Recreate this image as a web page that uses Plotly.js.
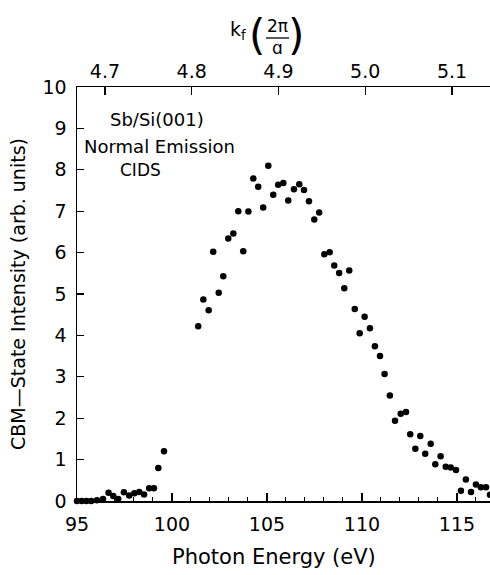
<!DOCTYPE html>
<html>
<head>
<meta charset="utf-8">
<script src="https://cdn.plot.ly/plotly-3.0.1.min.js"></script>
<style>html,body{margin:0;padding:0;background:#fff;}#chart{width:490px;height:575px;}</style>
</head>
<body>
<div id="chart"></div>
<script>
// Photon energy (eV)
const energy = [95.0, 95.25, 95.5, 95.75, 96.05, 96.37, 96.66, 96.91, 97.17, 97.47,
  97.75, 98.02, 98.28, 98.53, 98.8, 99.05, 99.28, 99.58,
  101.38, 101.65, 101.93, 102.17, 102.46, 102.7, 102.96, 103.23, 103.49, 103.75,
  104.02, 104.28, 104.54, 104.8, 105.07, 105.33, 105.59, 105.86, 106.12,
  106.42, 106.7, 106.95, 107.21, 107.49, 107.75, 108.02, 108.3, 108.54, 108.8,
  109.07, 109.33, 109.62, 109.88, 110.14, 110.42, 110.68, 110.95, 111.19, 111.47,
  111.74, 112.04, 112.32, 112.54, 112.81, 113.07, 113.33, 113.62, 113.86, 114.14,
  114.41, 114.67, 114.95, 115.21, 115.47, 115.74, 116.0, 116.26, 116.53, 116.74];
// CBM-state intensity (arb. units)
const intensity = [0, 0, 0, 0, 0.02, 0.05, 0.2, 0.12, 0.05, 0.21,
  0.13, 0.19, 0.22, 0.16, 0.31, 0.31, 0.8, 1.2,
  4.22, 4.87, 4.61, 6.02, 5.03, 5.43, 6.34, 6.46, 7.0, 6.03,
  6.99, 7.79, 7.59, 7.09, 8.1, 7.4, 7.64, 7.68, 7.26,
  7.53, 7.65, 7.51, 7.24, 6.8, 6.97, 5.96, 6.01, 5.69, 5.51,
  5.14, 5.57, 4.64, 4.05, 4.45, 4.17, 3.74, 3.5, 3.07, 2.55,
  1.94, 2.11, 2.15, 1.61, 1.26, 1.57, 1.14, 1.38, 0.89, 1.08,
  0.83, 0.81, 0.75, 0.25, 0.52, 0.22, 0.4, 0.33, 0.33, 0.15];
// bottom axis
const eRange = [95, 116.74];
const eTicks = [95, 100, 105, 110, 115];
// top axis k_f (2pi/a)
const kRange = [4.6678, 5.1438];
const kTicks = [4.7, 4.8, 4.9, 5.0, 5.1];
const kLabels = ['4.7', '4.8', '4.9', '5.0', '5.1'];
// y axis
const yRange = [0, 10];
const yTicks = [0,1,2,3,4,5,6,7,8,9,10];
// labels
const legendLines = ['Sb/Si(001)', 'Normal Emission', 'CIDS'];

const FONT = 'DejaVu Sans, Arial, sans-serif';

const traces = [
  {
    x: energy, y: intensity, type: 'scatter', mode: 'markers',
    marker: {color: '#000', size: 6.5, line: {width: 0}},
    cliponaxis: false, hoverinfo: 'x+y', showlegend: false
  },
  {
    x: kTicks, y: kTicks.map(() => null), xaxis: 'x2', yaxis: 'y',
    type: 'scatter', mode: 'markers', hoverinfo: 'skip', showlegend: false
  }
];

const axisCommon = {
  showgrid: false, zeroline: false, showline: true, linecolor: '#000', linewidth: 1.5,
  ticks: 'inside', tickcolor: '#000', tickwidth: 1.2,
  tickfont: {family: FONT, size: 19, color: '#000'}
};

const layout = {
  width: 490, height: 575,
  margin: {l: 77, r: 0, t: 87, b: 74, pad: 0},
  paper_bgcolor: '#fff', plot_bgcolor: '#fff',
  showlegend: false,
  xaxis: Object.assign({}, axisCommon, {
    range: eRange, tickmode: 'array', tickvals: eTicks, ticklen: 8, ticklabelstandoff: 6,
    minor: {dtick: 1, tick0: 95, ticks: 'inside', ticklen: 4, tickcolor: '#000', tickwidth: 1, showgrid: false},
    anchor: 'y'
  }),
  xaxis2: Object.assign({}, axisCommon, {
    range: kRange, tickmode: 'array', tickvals: kTicks, ticktext: kLabels, ticklen: 8,
    overlaying: 'x', side: 'top', anchor: 'y'
  }),
  yaxis: Object.assign({}, axisCommon, {
    range: yRange, tickmode: 'array', tickvals: yTicks, ticklen: 7, ticklabelstandoff: 5,
    title: {text: 'CBM\u2014State Intensity (arb. units)', font: {family: FONT, size: 19, color: '#000'}, standoff: 12}
  }),
  annotations: [
    {text: 'Photon Energy (eV)', xref: 'paper', yref: 'paper', x: (274 - 77) / 413, y: (501 - 557) / 414,
     showarrow: false, xanchor: 'center', yanchor: 'middle', font: {family: FONT, size: 21, color: '#000'}},
    {text: legendLines[0], xref: 'paper', yref: 'paper', x: (157 - 77) / 413, y: (501 - 119) / 414,
     showarrow: false, xanchor: 'center', yanchor: 'middle', font: {family: FONT, size: 18, color: '#000'}},
    {text: legendLines[1], xref: 'paper', yref: 'paper', x: (159 - 77) / 413, y: (501 - 146) / 414,
     showarrow: false, xanchor: 'center', yanchor: 'middle', font: {family: FONT, size: 18, color: '#000'}},
    {text: legendLines[2], xref: 'paper', yref: 'paper', x: (140 - 77) / 413, y: (501 - 170) / 414,
     showarrow: false, xanchor: 'center', yanchor: 'middle', font: {family: FONT, size: 17, color: '#000'}},
    {text: 'k<sub>f</sub>', xref: 'paper', yref: 'paper', x: (238 - 77) / 413, y: (501 - 30) / 414,
     showarrow: false, xanchor: 'center', yanchor: 'middle', font: {family: FONT, size: 19, color: '#000'}},
    {text: '(', xref: 'paper', yref: 'paper', x: (257 - 77) / 413, y: (501 - 35) / 414,
     showarrow: false, xanchor: 'center', yanchor: 'middle', font: {family: FONT, size: 42, color: '#000'}},
    {text: ')', xref: 'paper', yref: 'paper', x: (296 - 77) / 413, y: (501 - 35) / 414,
     showarrow: false, xanchor: 'center', yanchor: 'middle', font: {family: FONT, size: 42, color: '#000'}},
    {text: '2\u03c0', xref: 'paper', yref: 'paper', x: (277 - 77) / 413, y: (501 - 26) / 414,
     showarrow: false, xanchor: 'center', yanchor: 'middle', font: {family: FONT, size: 17, color: '#000'}},
    {text: '\u0251', xref: 'paper', yref: 'paper', x: (277 - 77) / 413, y: (501 - 48) / 414,
     showarrow: false, xanchor: 'center', yanchor: 'middle', font: {family: FONT, size: 17, color: '#000'}}
  ],
  shapes: [
    {type: 'line', xref: 'paper', yref: 'paper', x0: (266 - 77) / 413, x1: (289 - 77) / 413,
     y0: (501 - 38) / 414, y1: (501 - 38) / 414, line: {color: '#000', width: 1.3}}
  ]
};

Plotly.newPlot('chart', traces, layout, {displayModeBar: false, staticPlot: true});
</script>
</body>
</html>
